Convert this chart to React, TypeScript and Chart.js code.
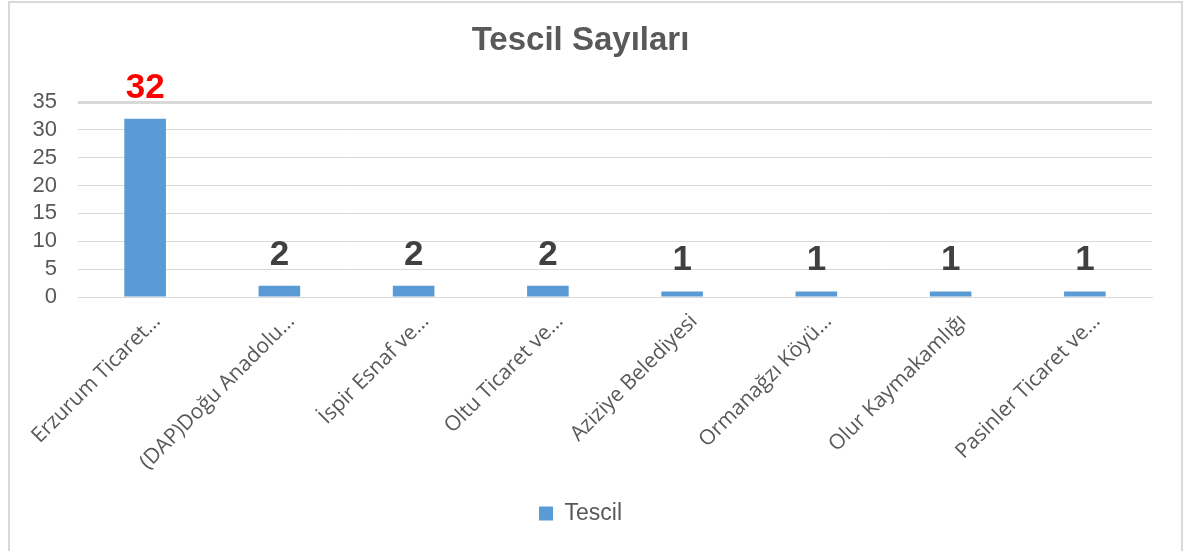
import React, { useEffect, useRef } from "react";
import { Chart, registerables } from "chart.js";

Chart.register(...registerables);

const categories: string[] = [
  "Erzurum Ticaret…",
  "(DAP)Doğu Anadolu…",
  "İspir Esnaf ve…",
  "Oltu Ticaret ve…",
  "Aziziye Belediyesi",
  "Ormanağzı Köyü…",
  "Olur Kaymakamlığı",
  "Pasinler Ticaret ve…",
];
const tescilValues: number[] = [32, 2, 2, 2, 1, 1, 1, 1];
const yTicks: number[] = [0, 5, 10, 15, 20, 25, 30, 35];
const chartTitle = "Tescil Sayıları";
const seriesName = "Tescil";

const framePlugin = {
  id: "frame",
  beforeDraw(chart: any) {
    const ctx = chart.ctx;
    ctx.save();
    ctx.fillStyle = "#ffffff";
    ctx.fillRect(0, 0, chart.width, chart.height);
    ctx.strokeStyle = "#d9d9d9";
    ctx.lineWidth = 2;
    ctx.strokeRect(9, 2, chart.width - 9 - 12, chart.height + 10);
    ctx.restore();
  },
};

const valueLabelPlugin = {
  id: "valueLabels",
  afterDatasetsDraw(chart: any) {
    const ctx = chart.ctx;
    const meta = chart.getDatasetMeta(0);
    const data = chart.data.datasets[0].data as number[];
    ctx.save();
    ctx.font = "bold 35px 'Liberation Sans', Arial, sans-serif";
    ctx.textAlign = "center";
    ctx.textBaseline = "alphabetic";
    meta.data.forEach((bar: any, i: number) => {
      ctx.fillStyle = i === 0 ? "#ff0000" : "#404040";
      ctx.fillText(String(data[i]), bar.x, bar.y - 21);
    });
    ctx.restore();
  },
};

export default function App() {
  const canvasRef = useRef<HTMLCanvasElement>(null);

  useEffect(() => {
    document.body.style.margin = "0";
    const canvas = canvasRef.current;
    if (!canvas) return;
    const chart = new Chart(canvas, {
      type: "bar",
      data: {
        labels: categories,
        datasets: [
          {
            label: seriesName,
            data: tescilValues,
            backgroundColor: "#5b9bd5",
            borderWidth: 0,
            barPercentage: 0.31,
            categoryPercentage: 1,
          },
        ],
      },
      options: {
        responsive: false,
        animation: false,
        layout: { padding: { left: 9, right: 42, top: 0, bottom: 16 } },
        plugins: {
          title: {
            display: true,
            text: chartTitle,
            color: "#595959",
            font: { family: "'Liberation Sans', Arial, sans-serif", size: 33, weight: "bold" },
            padding: { top: 21, bottom: 41.4 },
          },
          legend: {
            display: true,
            position: "bottom",
            labels: {
              color: "#595959",
              font: { family: "'Liberation Sans', Arial, sans-serif", size: 23 },
              boxWidth: 14,
              boxHeight: 14,
              padding: 10,
            },
          },
          tooltip: { enabled: false },
        },
        scales: {
          x: {
            grid: { display: false, drawTicks: false },
            border: { display: true, color: "#d9d9d9", width: 1 },
            ticks: {
              autoSkip: false,
              minRotation: 45,
              maxRotation: 45,
              padding: 12,
              labelOffset: 12,
              color: "#595959",
              font: { family: "'Open Sans', sans-serif", size: 21 },
            },
            afterFit(scale: any) {
              scale.height = 195;
            },
          },
          y: {
            min: 0,
            max: 35,
            afterBuildTicks(scale: any) {
              scale.ticks = yTicks.map((v) => ({ value: v }));
            },
            grid: {
              color: "#d9d9d9",
              drawTicks: false,
              lineWidth: (c: any) => (c.tick && c.tick.value === 35 ? 3 : 1),
            },
            border: { display: false },
            ticks: {
              autoSkip: false,
              padding: 21,
              color: "#595959",
              font: { family: "'Liberation Sans', Arial, sans-serif", size: 22 },
            },
            afterFit(scale: any) {
              scale.width = 69;
            },
          },
        },
      },
      plugins: [framePlugin, valueLabelPlugin],
    });
    return () => chart.destroy();
  }, []);

  return (
    <div style={{ width: 1194, height: 551 }}>
      <canvas ref={canvasRef} width={1194} height={551} style={{ display: "block" }} />
    </div>
  );
}
